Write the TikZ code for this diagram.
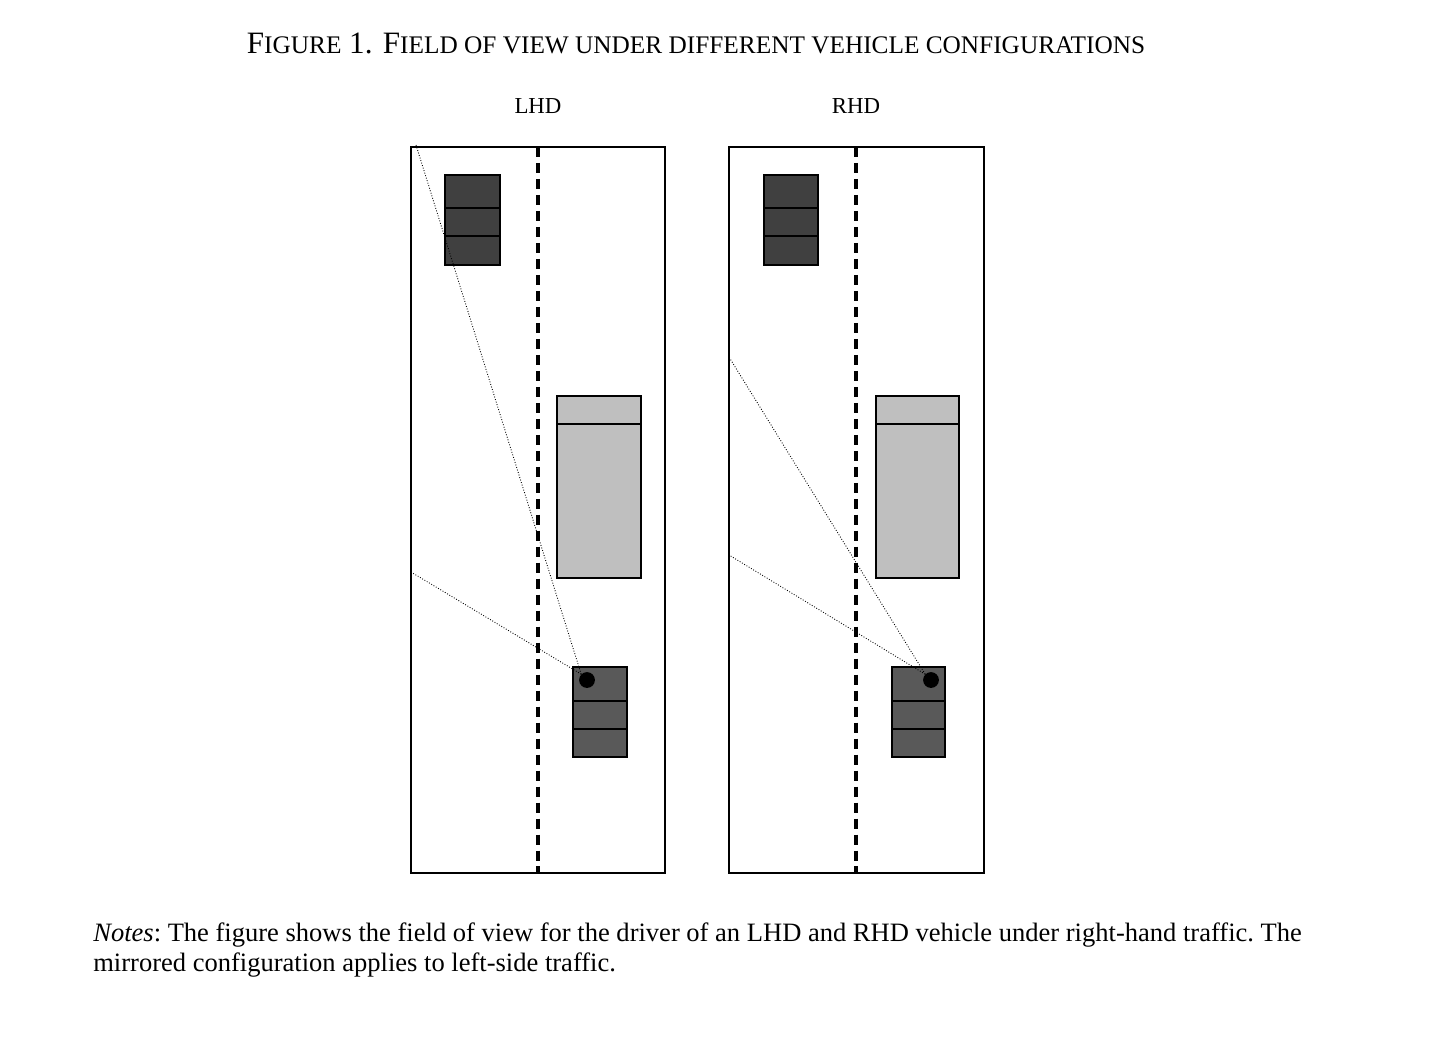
\documentclass[tikz,border=0pt]{standalone}
\usepackage{fontspec}
\setmainfont{Liberation Serif}
\usetikzlibrary{calc}
\newcommand{\fakesc}[2]{#1{\fontsize{14.4}{17}\selectfont #2}}
\tikzset{
  road/.style={line width=0.9pt, draw=black, fill=white},
  lane/.style={line width=2.3pt, dash pattern=on 5.7pt off 3.4pt},
  car/.style={line width=1.1pt, draw=black},
  sight/.style={line width=0.5pt, densely dotted},
  eye/.style={circle, fill=black, inner sep=0pt, minimum size=9pt}
}
\begin{document}
\begin{tikzpicture}[x=0.02cm, y=-0.02cm]
  %%%%% FRAME %%%%%
  \useasboundingbox (0,0) rectangle (1436,1036);
  \node[font=\fontsize{17.7}{20}\selectfont] (title) at (696,43)
    {\fakesc{F}{IGURE} 1. \fakesc{F}{IELD OF VIEW UNDER DIFFERENT VEHICLE CONFIGURATIONS}};
  \node (lhd) at (538,106) {\fontsize{13}{15}\selectfont LHD};
  \node (rhd) at (856,106) {\fontsize{13}{15}\selectfont RHD};

  %%%%% LHD %%%%%
  \draw[road] (411,147) rectangle (665,873);
  \draw[lane] (538,147) -- (538,873);
  \draw[car, fill=black!75] (445,175) rectangle (500,265);
  \draw[car] (445,208) -- (500,208) (445,236) -- (500,236);
  \draw[car, fill=black!25] (557,396) rectangle (641,578);
  \draw[car] (557,424) -- (641,424);
  \draw[car, fill=black!65] (573,667) rectangle (627,757);
  \draw[car] (573,701) -- (627,701) (573,729) -- (627,729);
  \node[eye] (eyeL) at (587,680) {};
  \coordinate (farL) at (416,145);
  \coordinate (sideL) at (411,572);
  \draw[sight] (eyeL.north west) -- (farL);
  \draw[sight] (eyeL.north west) -- (sideL);

  %%%%% RHD %%%%%
  \draw[road] (729,147) rectangle (984,873);
  \draw[lane] (856,147) -- (856,873);
  \draw[car, fill=black!75] (764,175) rectangle (818,265);
  \draw[car] (764,208) -- (818,208) (764,236) -- (818,236);
  \draw[car, fill=black!25] (876,396) rectangle (959,578);
  \draw[car] (876,424) -- (959,424);
  \draw[car, fill=black!65] (892,667) rectangle (945,757);
  \draw[car] (892,701) -- (945,701) (892,729) -- (945,729);
  \node[eye] (eyeR) at (931,680) {};
  \coordinate (farR) at (729,357);
  \coordinate (sideR) at (729,555);
  \draw[sight] (eyeR.north west) -- (farR);
  \draw[sight] (eyeR.north west) -- (sideR);

  %%%%% NOTES %%%%%
  \node[anchor=north west, align=left, inner sep=0pt,
        font=\fontsize{15.1}{17.6}\selectfont\frenchspacing] (notes) at (93,922)
    {\textit{Notes}: The figure shows the field of view for the driver of an LHD and RHD vehicle under right-hand traffic. The\\
     mirrored configuration applies to left-side traffic.};
\end{tikzpicture}
\end{document}
